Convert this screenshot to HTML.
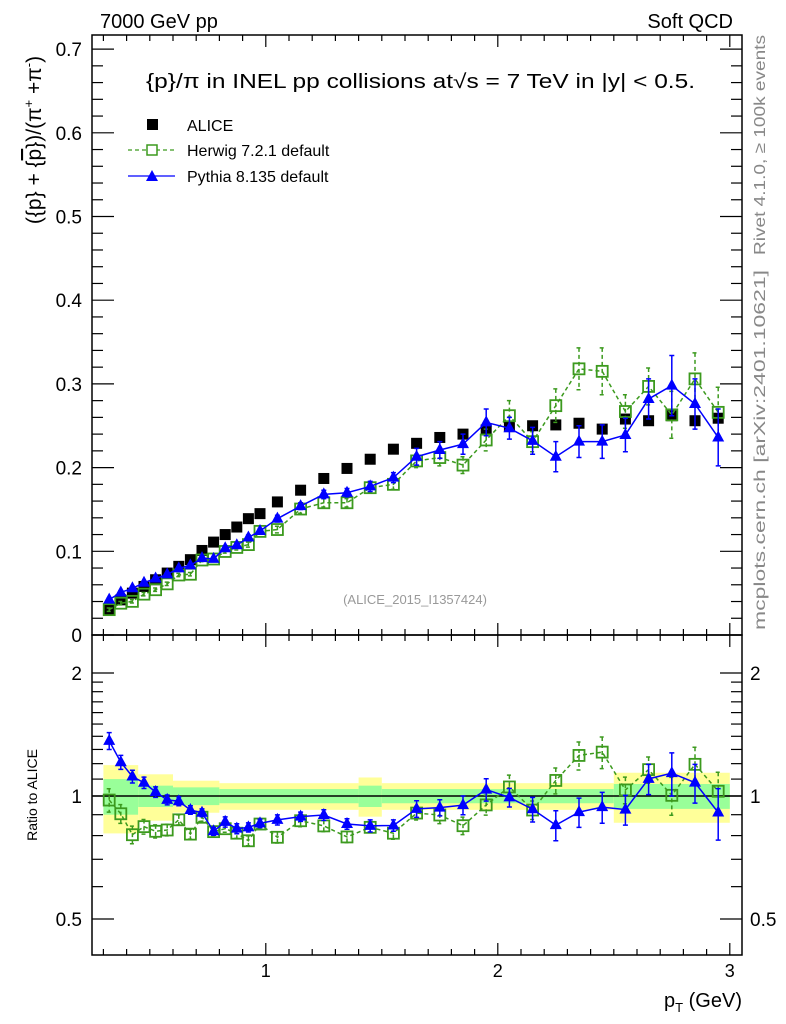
<!DOCTYPE html>
<html><head><meta charset="utf-8"><style>
html,body{margin:0;padding:0;background:#fff;}
svg{display:block;font-family:"Liberation Sans",sans-serif;}
</style></head><body>
<svg id="chart" width="786" height="1024" viewBox="0 0 786 1024" xmlns="http://www.w3.org/2000/svg">
<rect x="0" y="0" width="786" height="1024" fill="#fff"/>
<g id="bands"></g>
<g id="grid"></g>
<g id="series"></g>
<rect x="92" y="35" width="650" height="600" fill="none" stroke="#000" stroke-width="1.5"/>
<rect x="92" y="635" width="650" height="320" fill="none" stroke="#000" stroke-width="1.5"/>
<text x="100" y="28" font-size="20">7000 GeV pp</text>
<text x="733" y="28" font-size="20" text-anchor="end">Soft QCD</text>
<text x="146" y="88" font-size="20" textLength="549" lengthAdjust="spacingAndGlyphs">{p}/π in INEL pp collisions at√s =  7 TeV in |y| &lt; 0.5.</text>
<g>
<rect x="147" y="119" width="11" height="11" fill="#000"/>
<text x="187" y="131" font-size="16">ALICE</text>
<line x1="128" y1="150" x2="175" y2="150" stroke="#3c9a1e" stroke-width="1.3" stroke-dasharray="4,3"/>
<rect x="147" y="145" width="10" height="10" fill="#fff" stroke="#3c9a1e" stroke-width="1.5"/>
<text x="187" y="156" font-size="16">Herwig 7.2.1 default</text>
<line x1="128" y1="176" x2="175" y2="176" stroke="#0000ff" stroke-width="1.3"/>
<polygon points="152,170 158,181 146,181" fill="#0000ff"/>
<text x="187" y="182" font-size="16">Pythia 8.135 default</text>
</g>
<text x="415" y="604" font-size="13" fill="#999" text-anchor="middle">(ALICE_2015_I1357424)</text>
<text transform="translate(41,140) rotate(-90)" font-size="21" text-anchor="middle">({p} + {<tspan text-decoration="overline">p</tspan>})/(π<tspan font-size="13" dy="-8">+</tspan><tspan dy="8"> +π</tspan><tspan font-size="13" dy="-8">-</tspan><tspan dy="8">)</tspan></text>
<text transform="translate(37,795) rotate(-90)" font-size="14" text-anchor="middle">Ratio to ALICE</text>
<text x="742" y="1007" font-size="20" text-anchor="end">p<tspan font-size="13" dy="5">T</tspan><tspan dy="-5"> (GeV)</tspan></text>
<text transform="translate(765,255) rotate(-90)" font-size="16" fill="#888" textLength="220" lengthAdjust="spacingAndGlyphs">Rivet 4.1.0, ≥ 100k events</text>
<text transform="translate(765,630) rotate(-90)" font-size="16" fill="#888" textLength="360" lengthAdjust="spacingAndGlyphs">mcplots.cern.ch [arXiv:2401.10621]</text>
</svg>
<script>
const pT = [0.325,0.375,0.425,0.475,0.525,0.575,0.625,0.675,0.725,0.775,0.825,0.875,0.925,0.975,1.05,1.15,1.25,1.35,1.45,1.55,1.65,1.75,1.85,1.95,2.05,2.15,2.25,2.35,2.45,2.55,2.65,2.75,2.85,2.95];
const alice = [0.031,0.042,0.050,0.058,0.066,0.074,0.082,0.090,0.101,0.111,0.120,0.129,0.139,0.145,0.159,0.173,0.187,0.199,0.210,0.222,0.229,0.236,0.240,0.245,0.249,0.250,0.251,0.253,0.246,0.258,0.256,0.262,0.256,0.259];
const herwig = [0.0303,0.038,0.0402,0.0488,0.0541,0.0611,0.0717,0.0726,0.0896,0.0908,0.0998,0.1046,0.108,0.1238,0.126,0.1505,0.158,0.158,0.176,0.180,0.208,0.212,0.203,0.233,0.262,0.231,0.274,0.318,0.315,0.267,0.297,0.263,0.306,0.266];
const herwigErr = [0.002,0.002,0.002,0.002,0.002,0.002,0.002,0.002,0.002,0.002,0.002,0.003,0.003,0.003,0.004,0.005,0.005,0.005,0.005,0.006,0.008,0.010,0.010,0.013,0.018,0.012,0.020,0.025,0.028,0.020,0.022,0.028,0.031,0.030];
const pythia = [0.0423,0.0508,0.0558,0.0625,0.0675,0.0724,0.0796,0.0832,0.0919,0.0910,0.1037,0.1073,0.1165,0.1243,0.139,0.154,0.168,0.170,0.1775,0.188,0.213,0.221,0.228,0.254,0.247,0.232,0.213,0.231,0.231,0.239,0.282,0.298,0.276,0.236];
const pythiaErr = [0.002,0.002,0.002,0.002,0.002,0.002,0.002,0.002,0.002,0.002,0.003,0.003,0.003,0.003,0.004,0.004,0.005,0.005,0.006,0.006,0.010,0.010,0.012,0.016,0.013,0.016,0.018,0.019,0.020,0.020,0.024,0.036,0.030,0.034];
const bandEdges = [0.3,0.45,0.6,0.8,1.4,1.5,2.5,3.0];
const bandTotal = [0.19,0.13,0.09,0.075,0.11,0.075,0.14];
const bandStat = [0.10,0.06,0.05,0.04,0.06,0.04,0.07];
const mainYTicks = [0,0.1,0.2,0.3,0.4,0.5,0.6,0.7];
const ratioTicks = [0.5,1,2];
const xTicks = [1,2,3];

const NS="http://www.w3.org/2000/svg";
function X(v){return 265.8+232*(v-1);}
function Y(v){return 635-837*v;}
function R(v){return 796-123*Math.log2(v);}
function mk(tag,attrs,parent){const e=document.createElementNS(NS,tag);for(const k in attrs)e.setAttribute(k,attrs[k]);parent.appendChild(e);return e;}
const grid=document.getElementById('grid'),series=document.getElementById('series'),bands=document.getElementById('bands');

for(let i=0;i<bandTotal.length;i++){
  const x1=X(bandEdges[i]),x2=X(bandEdges[i+1]);
  let r=mk('rect',{x:x1,y:R(1+bandTotal[i]),width:x2-x1,height:R(1-bandTotal[i])-R(1+bandTotal[i]),fill:'#ffff99'},bands);
  
  
  let g=mk('rect',{x:x1,y:R(1+bandStat[i]),width:x2-x1,height:R(1-bandStat[i])-R(1+bandStat[i]),fill:'#99ff99'},bands);
  
  
}
let ref=mk('line',{x1:92,x2:742,y1:R(1),y2:R(1),stroke:'#000','stroke-width':1.5},bands);



for(let t=0.3;t<=3.0001;t+=0.1){
  const v=Math.round(t*10)/10, major=Math.abs(v-Math.round(v))<1e-6, x=X(v);
  const L=major?12:6;
  [[35,35+L],[635,635-L],[635,635+L],[955,955-L]].forEach(p=>{
    const l=mk('line',{x1:x,x2:x,y1:p[0],y2:p[1],stroke:'#000','stroke-width':1.2},grid);
    
    
  });
}
xTicks.forEach(v=>{
  const t=mk('text',{x:X(v),y:977,'font-size':18,'text-anchor':'middle'},grid);t.textContent=v;
  
  
});
for(let k=0;k<=35;k++){
  const v=k*0.02, y=Y(v), major=k%5===0, L=major?22:11;
  if(y<35)continue;
  [[92,92+L],[742,742-L]].forEach(p=>{
    const l=mk('line',{x1:p[0],x2:p[1],y1:y,y2:y,stroke:'#000','stroke-width':1.2},grid);
    
    
  });
}
mainYTicks.forEach(v=>{
  const t=mk('text',{x:82,y:Y(v)+7,'font-size':19,'text-anchor':'end'},grid);t.textContent=v===0?'0':v.toFixed(1);
  
  
});
const rminor=[0.5,0.6,0.7,0.8,0.9,1,1.1,1.2,1.3,1.4,1.5,1.6,1.7,1.8,1.9,2];
rminor.forEach(v=>{
  const major=ratioTicks.includes(v), L=major?22:11, y=R(v);
  [[92,92+L],[742,742-L]].forEach(p=>{
    const l=mk('line',{x1:p[0],x2:p[1],y1:y,y2:y,stroke:'#000','stroke-width':1.2},grid);
    
    
  });
});
ratioTicks.forEach(v=>{
  const t=mk('text',{x:82,y:R(v)+7,'font-size':19,'text-anchor':'end'},grid);t.textContent=v;
  
  
  const t2=mk('text',{x:750,y:R(v)+7,'font-size':19},grid);t2.textContent=v;
  
  
});

function drawModel(vals,errs,color,dash,marker,name,ratio){
  const g=mk('g',{},series);
  
  
  const yv=i=>ratio?R(vals[i]/alice[i]):Y(vals[i]);
  const pts=pT.map((p,i)=>X(p)+','+yv(i)).join(' ');
  const pl=mk('polyline',{points:pts,fill:'none',stroke:color,'stroke-width':1.5,'stroke-dasharray':dash},g);
  
  
  pT.forEach((p,i)=>{
    const x=X(p);
    const hi=ratio?R((vals[i]+errs[i])/alice[i]):Y(vals[i]+errs[i]);
    const lo=ratio?R((vals[i]-errs[i])/alice[i]):Y(vals[i]-errs[i]);
    const e=mk('path',{d:`M${x},${hi}V${lo}M${x-2.5},${hi}H${x+2.5}M${x-2.5},${lo}H${x+2.5}`,stroke:color,'stroke-width':1.5,fill:'none','stroke-dasharray':dash},g);
    
    
    const y=yv(i);
    let m;
    if(marker==='sq'){m=mk('rect',{x:x-5.5,y:y-5.5,width:11,height:11,fill:'none',stroke:color,'stroke-width':1.8},g);}
    else{m=mk('polygon',{points:`${x},${y-7} ${x+6},${y+4} ${x-6},${y+4}`,fill:color},g);}
    
    
  });
}
pT.forEach((p,i)=>{
  const r=mk('rect',{x:X(p)-5.5,y:Y(alice[i])-5.5,width:11,height:11,fill:'#000'},series);
  
  
});
drawModel(herwig,herwigErr,'#3c9a1e','4,3','sq','herwig',false);
drawModel(pythia,pythiaErr,'#0000ff','none','tri','pythia',false);
drawModel(herwig,herwigErr,'#3c9a1e','4,3','sq','herwig',true);
drawModel(pythia,pythiaErr,'#0000ff','none','tri','pythia',true);
</script>
</body></html>
